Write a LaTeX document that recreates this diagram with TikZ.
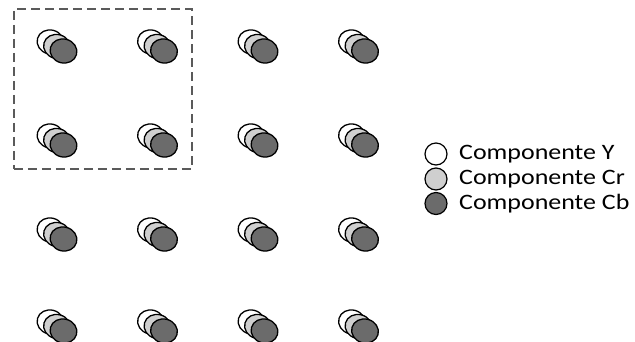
\documentclass[tikz,border=0pt]{standalone}
\usepackage{graphicx}
\usepackage{fontspec}
\setmainfont{Carlito}
\usetikzlibrary{shapes.geometric}
\definecolor{crgray}{HTML}{CFCFCF}
\definecolor{cbgray}{HTML}{6B6B6B}
\definecolor{dashgray}{HTML}{5A5A5A}
\newcommand{\legstretch}[1]{\scalebox{1.18}[1]{#1}}
\tikzset{
  px/.style={ellipse, draw=black, line width=1.3pt, minimum width=27pt, minimum height=24pt, inner sep=0pt},
  ycomp/.style={px, fill=white},
  crcomp/.style={px, fill=crgray},
  cbcomp/.style={px, fill=cbgray},
  legdot/.style={circle, draw=black, line width=1.2pt, minimum size=22pt, inner sep=0pt},
  legtext/.style={anchor=west, inner sep=0pt, font=\fontsize{22}{22}\selectfont, text=black},
  block/.style={draw=dashgray, line width=1.6pt, dash pattern=on 9pt off 5pt}
}
\begin{document}
\begin{tikzpicture}[x=1pt,y=-1pt]
\useasboundingbox (0,0) rectangle (635,341);
\node[block, minimum width=178pt, minimum height=160pt, anchor=north west] (blk) at (13,8) {};
\foreach \c/\x in {1/63.5,2/164,3/264.5,4/365}{
  \foreach \r/\y in {1/51,2/145,3/239,4/331}{
    \node[ycomp, rotate=-15] (y\c\r) at (\x-13,\y-9) {};
    \node[crcomp, rotate=-15] (cr\c\r) at (\x-6.5,\y-4.5) {};
    \node[cbcomp, rotate=-15] (cb\c\r) at (\x,\y) {};
  }
}
\node[legdot, fill=white] (l1) at (436,154) {};
\node[legdot, fill=crgray] (l2) at (436,179) {};
\node[legdot, fill=cbgray] (l3) at (436,203.5) {};
\node[legtext] (t1) at (459,154) {\legstretch{Componente Y}};
\node[legtext] (t2) at (459,179) {\legstretch{Componente Cr}};
\node[legtext] (t3) at (459,203.5) {\legstretch{Componente Cb}};
\end{tikzpicture}
\end{document}
